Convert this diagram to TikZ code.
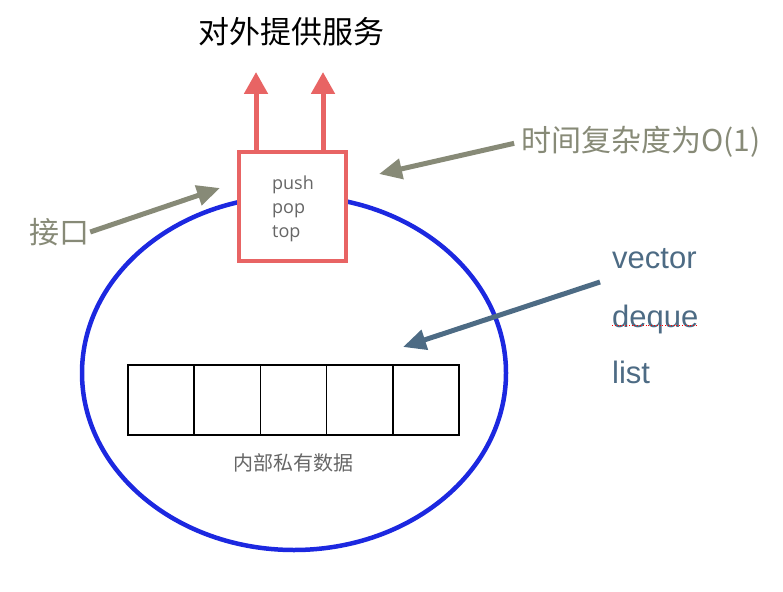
\documentclass[tikz,border=0pt]{standalone}
\usepackage{fontspec}
\setmainfont{Liberation Sans}
\newfontfamily\cjk{Noto Sans CJK SC}
\newfontfamily\opensans{Open Sans}
\usetikzlibrary{positioning, arrows.meta}
\definecolor{boxred}{HTML}{E86464}
\definecolor{ringblue}{HTML}{1C28E0}
\definecolor{hintgray}{HTML}{878A77}
\definecolor{kindblue}{HTML}{4D6B84}
\definecolor{opgray}{HTML}{666666}

\begin{document}
\begin{tikzpicture}
        [
            x=1pt, y=-1pt,
            wall/.style = {draw=ringblue, line width=4.5pt},
            iface/.style = {draw=boxred, fill=white, line width=4pt, minimum width=107pt, minimum height=109pt, outer sep=0pt},
            cell/.style = {draw, line width=1.6pt, minimum width=66.2pt, minimum height=70pt, outer sep=0pt, inner sep=0pt},
            serve/.style = {-{Triangle[width=23pt,length=22pt]}, boxred, line width=5pt},
            hint/.style = {-{Triangle[width=20pt,length=23pt]}, hintgray, line width=5pt},
            kindarrow/.style = {-{Triangle[width=20pt,length=23pt]}, kindblue, line width=5pt},
            kind/.style = {kindblue, font=\fontsize{31}{31}\selectfont, inner sep=0pt, anchor=base west},
            note/.style = {hintgray, font=\cjk\fontsize{30}{30}\selectfont, inner sep=1pt}
        ]%
        \useasboundingbox (0,0) rectangle (783,591);
        % outer wall
        \draw[wall] (294,373) ellipse [x radius=212, y radius=177];
        % interface box
        \node[iface] (box) at (292.5,206.5) {};
        \node[opgray, align=left, inner sep=0pt, font=\opensans\fontsize{18}{24}\selectfont] (ops) at (293,209) {push\\pop\\top};
        \node[font=\cjk\fontsize{31}{31}\selectfont, inner sep=0pt] (title) at (291,32) {对外提供服务};
        \coordinate (up1) at (256,72);
        \coordinate (up2) at (323,72);
        \draw[serve] (box.north -| up1) -- (up1);
        \draw[serve] (box.north -| up2) -- (up2);
        % labels round the box
        \node[note] (port) at (59,232) {接口};
        \node[note, anchor=west] (cost) at (520,142) {时间复杂度为O(1)};
        \coordinate (porttip) at (220,188);
        \coordinate (costtip) at (379,174);
        \draw[hint] (port.east) -- (porttip);
        \draw[hint, shorten <=6pt] (cost.west) -- (costtip);
        % private data
        \node[cell, anchor=west] (c1) at (128,400) {};
        \node[cell, right=0pt of c1] (c2) {};
        \node[cell, right=0pt of c2] (c3) {};
        \node[cell, right=0pt of c3] (c4) {};
        \node[cell, right=0pt of c4] (c5) {};
        \node[opgray, font=\cjk\fontsize{20}{20}\selectfont, inner sep=0pt] (data) at (293,463) {内部私有数据};
        % containers
        \node[kind] (vec) at (612,268) {vector};
        \node[kind] (deq) at (612,327) {deque};
        \node[kind] (lst) at (612,383) {list};
        \draw[red, line width=0.8pt, dotted] ([yshift=2pt]deq.base west) -- ([yshift=2pt]deq.base east);
        \coordinate (kinds) at (600,282);
        \coordinate (kindtip) at (403,347);
        \draw[kindarrow] (kinds) -- (kindtip);
\end{tikzpicture}
\end{document}
